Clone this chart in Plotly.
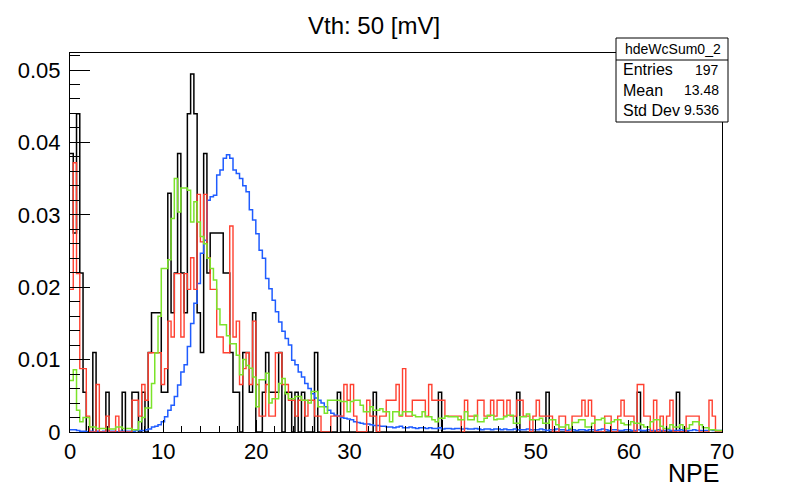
import numpy as np
import plotly.graph_objects as go

# ---------------- data ----------------
x_min, x_max, n_bins = 0.0, 70.0, 200

# black histogram (entry counts per bin) and its normalisation
black_counts = [
    7, 5, 8, 4, 1, 0, 0, 2, 0, 0, 0, 1, 0, 0, 0, 0, 1, 0, 0, 1,
    1, 0, 1, 0, 2, 3, 3, 3, 1, 1, 6, 3, 4, 7, 4, 3, 8, 9, 8, 3,
    2, 7, 4, 5, 5, 5, 5, 4, 4, 2, 1, 1, 0, 2, 2, 1, 3, 0, 0, 1,
    2, 1, 1, 1, 2, 0, 1, 1, 0, 1, 0, 1, 0, 0, 0, 2, 0, 0, 0, 0,
    0, 0, 1, 0, 0, 0, 0, 0, 0, 0, 0, 0, 0, 1, 0, 0, 0, 0, 0, 0,
    0, 0, 0, 0, 0, 0, 0, 0, 0, 0, 0, 0, 0, 1, 0, 0, 0, 0, 0, 0,
    0, 0, 0, 0, 0, 0, 0, 0, 0, 0, 0, 0, 0, 0, 0, 0, 0, 1, 0, 0,
    0, 0, 0, 0, 0, 0, 1, 0, 0, 0, 0, 0, 0, 0, 0, 0, 0, 0, 0, 0,
    0, 0, 0, 0, 0, 0, 0, 0, 0, 0, 0, 0, 0, 0, 1, 0, 0, 0, 0, 0,
    0, 0, 0, 0, 0, 0, 1, 0, 0, 0,
]
black_norm = 1.0 / 182

# red histogram (entry counts per bin) and its normalisation
red_counts = [
    9, 17, 10, 4, 4, 1, 0, 0, 3, 0, 0, 1, 0, 0, 1, 0, 0, 0, 0, 2,
    2, 1, 3, 2, 5, 5, 5, 5, 3, 4, 7, 6, 10, 10, 6, 10, 9, 11, 9, 15,
    12, 15, 11, 9, 9, 6, 6, 5, 5, 13, 6, 7, 3, 4, 5, 3, 7, 3, 1, 1,
    3, 1, 1, 5, 5, 3, 3, 2, 2, 1, 2, 2, 1, 2, 2, 1, 1, 0, 0, 0,
    1, 1, 1, 1, 3, 2, 3, 1, 0, 0, 0, 2, 1, 1, 0, 1, 1, 2, 2, 2,
    3, 1, 4, 1, 1, 2, 2, 2, 2, 1, 3, 2, 2, 2, 2, 1, 1, 1, 1, 1,
    0, 2, 1, 1, 1, 2, 2, 1, 1, 2, 1, 2, 2, 1, 2, 1, 1, 2, 2, 1,
    1, 0, 1, 2, 1, 1, 1, 1, 0, 0, 1, 1, 0, 0, 1, 1, 1, 2, 1, 2,
    1, 0, 0, 0, 1, 1, 0, 0, 1, 2, 1, 1, 1, 0, 3, 3, 1, 1, 0, 2,
    0, 1, 0, 1, 2, 0, 0, 0, 0, 1, 1, 1, 1, 0, 0, 0, 2, 1, 0, 0,
]
red_norm = 1.0 / 457

green_vals = [
    0.0071, 0.0086, 0.0030, 0.0014, 0.0020, 0.0020, 0.0007, 0.0007, 0.0005, 0.0005,
    0.0005, 0.0005, 0.0004, 0.0004, 0.0007, 0.0007, 0.0005, 0.0005, 0.0005, 0.0003,
    0.0003, 0.0014, 0.0020, 0.0033, 0.0033, 0.0067, 0.0109, 0.0160, 0.0226, 0.0226,
    0.0238, 0.0295, 0.0350, 0.0304, 0.0337, 0.0337, 0.0334, 0.0290, 0.0318, 0.0290,
    0.0270, 0.0260, 0.0240, 0.0226, 0.0210, 0.0170, 0.0148, 0.0148, 0.0133, 0.0122,
    0.0122, 0.0106, 0.0079, 0.0100, 0.0092, 0.0088, 0.0076, 0.0035, 0.0072, 0.0072,
    0.0081, 0.0040, 0.0046, 0.0046, 0.0067, 0.0074, 0.0053, 0.0046, 0.0046, 0.0049,
    0.0049, 0.0044, 0.0044, 0.0040, 0.0056, 0.0056, 0.0035, 0.0035, 0.0026, 0.0044,
    0.0044, 0.0044, 0.0044, 0.0042, 0.0042, 0.0028, 0.0042, 0.0044, 0.0044, 0.0037,
    0.0028, 0.0028, 0.0035, 0.0030, 0.0030, 0.0032, 0.0028, 0.0028, 0.0014, 0.0028,
    0.0028, 0.0023, 0.0028, 0.0028, 0.0028, 0.0023, 0.0021, 0.0021, 0.0028, 0.0021,
    0.0021, 0.0017, 0.0014, 0.0019, 0.0019, 0.0022, 0.0021, 0.0021, 0.0021, 0.0017,
    0.0017, 0.0028, 0.0017, 0.0017, 0.0023, 0.0014, 0.0014, 0.0019, 0.0023, 0.0023,
    0.0017, 0.0018, 0.0018, 0.0021, 0.0023, 0.0023, 0.0012, 0.0012, 0.0021, 0.0021,
    0.0025, 0.0017, 0.0017, 0.0017, 0.0019, 0.0012, 0.0012, 0.0017, 0.0017, 0.0010,
    0.0007, 0.0007, 0.0010, 0.0005, 0.0013, 0.0013, 0.0017, 0.0017, 0.0007, 0.0007,
    0.0012, 0.0017, 0.0017, 0.0019, 0.0012, 0.0012, 0.0014, 0.0017, 0.0017, 0.0012,
    0.0010, 0.0010, 0.0014, 0.0012, 0.0012, 0.0010, 0.0007, 0.0007, 0.0014, 0.0017,
    0.0017, 0.0008, 0.0005, 0.0005, 0.0010, 0.0007, 0.0007, 0.0010, 0.0005, 0.0005,
    0.0010, 0.0014, 0.0014, 0.0010, 0.0006, 0.0006, 0.0003, 0.0003, 0.0002, 0.0002,
]

blue_vals = [
    0.0003, 0.0003, 0.0002, 0.0001, 0.0001, 0.0000, 0.0001, 0.0000, 0.0001, 0.0000,
    0.0001, 0.0000, 0.0001, 0.0001, 0.0000, 0.0001, 0.0001, 0.0001, 0.0001, 0.0001,
    0.0002, 0.0002, 0.0002, 0.0003, 0.0004, 0.0007, 0.0008, 0.0010, 0.0014, 0.0021,
    0.0030, 0.0037, 0.0049, 0.0065, 0.0083, 0.0093, 0.0118, 0.0150, 0.0178, 0.0205,
    0.0247, 0.0265, 0.0320, 0.0325, 0.0327, 0.0355, 0.0362, 0.0378, 0.0383, 0.0378,
    0.0362, 0.0357, 0.0350, 0.0340, 0.0332, 0.0307, 0.0293, 0.0274, 0.0251, 0.0240,
    0.0212, 0.0198, 0.0182, 0.0166, 0.0152, 0.0139, 0.0129, 0.0120, 0.0099, 0.0093,
    0.0083, 0.0076, 0.0067, 0.0060, 0.0053, 0.0047, 0.0044, 0.0040, 0.0035, 0.0030,
    0.0026, 0.0023, 0.0022, 0.0020, 0.0019, 0.0018, 0.0017, 0.0014, 0.0013, 0.0012,
    0.0011, 0.0011, 0.0010, 0.0009, 0.0009, 0.0008, 0.0008, 0.0007, 0.0007, 0.0006,
    0.0007, 0.0008, 0.0006, 0.0006, 0.0007, 0.0006, 0.0005, 0.0006, 0.0006, 0.0005,
    0.0006, 0.0005, 0.0005, 0.0006, 0.0004, 0.0005, 0.0005, 0.0004, 0.0005, 0.0005,
    0.0004, 0.0005, 0.0004, 0.0004, 0.0005, 0.0004, 0.0003, 0.0004, 0.0004, 0.0003,
    0.0004, 0.0004, 0.0003, 0.0004, 0.0003, 0.0003, 0.0004, 0.0003, 0.0003, 0.0003,
    0.0004, 0.0003, 0.0003, 0.0003, 0.0004, 0.0003, 0.0002, 0.0003, 0.0003, 0.0004,
    0.0003, 0.0003, 0.0002, 0.0003, 0.0003, 0.0002, 0.0003, 0.0003, 0.0002, 0.0003,
    0.0003, 0.0002, 0.0003, 0.0004, 0.0003, 0.0002, 0.0003, 0.0003, 0.0002, 0.0002,
    0.0003, 0.0003, 0.0002, 0.0002, 0.0003, 0.0002, 0.0002, 0.0003, 0.0002, 0.0002,
    0.0003, 0.0002, 0.0002, 0.0003, 0.0002, 0.0002, 0.0002, 0.0003, 0.0002, 0.0002,
    0.0002, 0.0003, 0.0002, 0.0002, 0.0002, 0.0002, 0.0003, 0.0002, 0.0002, 0.0002,
]

x_ticks = [0, 10, 20, 30, 40, 50, 60, 70]
y_ticks = [0, 0.01, 0.02, 0.03, 0.04, 0.05]
y_tick_labels = ["0", "0.01", "0.02", "0.03", "0.04", "0.05"]

title_text = "Vth: 50 [mV]"
x_title = "NPE"
stats_name = "hdeWcSum0_2"
stats_rows = [("Entries", "197"), ("Mean", "13.48"), ("Std Dev", "9.536")]

# ---------------- figure ----------------
edges = np.linspace(x_min, x_max, n_bins + 1)
FONT = "Liberation Sans, Arial, Helvetica, sans-serif"

def step_trace(vals, color, width=1.4):
    y = list(vals) + [vals[-1]]
    return go.Scatter(x=edges, y=y, mode="lines", line_shape="hv",
                      line=dict(color=color, width=width),
                      hoverinfo="skip", showlegend=False)

black_vals = [c * black_norm for c in black_counts]
red_vals = [c * red_norm for c in red_counts]

fig = go.Figure()
fig.add_trace(step_trace(black_vals, "#000000", 1.5))
fig.add_trace(step_trace(blue_vals, "#1f5cff", 1.5))
fig.add_trace(step_trace(red_vals, "#ff4030", 1.4))
fig.add_trace(step_trace(green_vals, "#7be32a", 1.5))

W, H = 786, 493
L, R, T, B = 70, 64, 53, 61
pw, ph = W - L - R, H - T - B

def px_x(p):
    return (p - L) / pw

def px_y(p):
    return (H - B - p) / ph

fig.update_layout(
    width=W, height=H,
    margin=dict(l=L, r=R, t=T, b=B, pad=0),
    paper_bgcolor="white", plot_bgcolor="white",
    font=dict(family=FONT, color="black"),
    showlegend=False,
    xaxis=dict(
        range=[x_min, x_max], tickvals=x_ticks, ticks="inside", ticklen=12,
        tickwidth=1, tickcolor="black", showgrid=False, zeroline=False,
        showline=True, linecolor="black", linewidth=1, mirror=True,
        tickfont=dict(size=22, family=FONT),
        minor=dict(dtick=2, ticks="inside", ticklen=6, tickcolor="black", showgrid=False),
    ),
    yaxis=dict(
        range=[0, 0.05235], tickvals=y_ticks, ticktext=y_tick_labels,
        ticks="inside", ticklen=20, tickwidth=1, tickcolor="black",
        showgrid=False, zeroline=False, showline=True, linecolor="black",
        linewidth=1, mirror=True, tickfont=dict(size=22, family=FONT),
        ticklabelstandoff=4,
        minor=dict(dtick=0.002, ticks="inside", ticklen=10, tickcolor="black", showgrid=False),
    ),
)

# title
fig.add_annotation(text=title_text, xref="paper", yref="paper",
                   x=px_x(374), y=px_y(25), xanchor="center", yanchor="middle",
                   showarrow=False, font=dict(size=24, family=FONT))
# x-axis title
fig.add_annotation(text=x_title, xref="paper", yref="paper",
                   x=px_x(721), y=px_y(473), xanchor="right", yanchor="middle",
                   showarrow=False, font=dict(size=25, family=FONT))

# stats box
bx0, bx1, by0, by1 = 616, 728, 38, 122
fig.add_shape(type="rect", xref="paper", yref="paper",
              x0=px_x(bx0), x1=px_x(bx1), y0=px_y(by1), y1=px_y(by0),
              line=dict(color="black", width=1), fillcolor="white", layer="above")
fig.add_shape(type="line", xref="paper", yref="paper",
              x0=px_x(bx0), x1=px_x(bx1), y0=px_y(60), y1=px_y(60),
              line=dict(color="black", width=1), layer="above")
fig.add_annotation(text=stats_name, xref="paper", yref="paper",
                   x=px_x((bx0 + bx1) / 2 + 1), y=px_y(49), xanchor="center", yanchor="middle",
                   showarrow=False, font=dict(size=14, family=FONT))
row_y = [70, 90, 110]
for (lab, val), yy in zip(stats_rows, row_y):
    fig.add_annotation(text=lab, xref="paper", yref="paper",
                       x=px_x(bx0 + 5), y=px_y(yy), xanchor="left", yanchor="middle",
                       showarrow=False, font=dict(size=16, family=FONT))
    fig.add_annotation(text=val, xref="paper", yref="paper",
                       x=px_x(bx1 - 7), y=px_y(yy), xanchor="right", yanchor="middle",
                       showarrow=False, font=dict(size=14, family=FONT))

fig.write_html("out.html")
